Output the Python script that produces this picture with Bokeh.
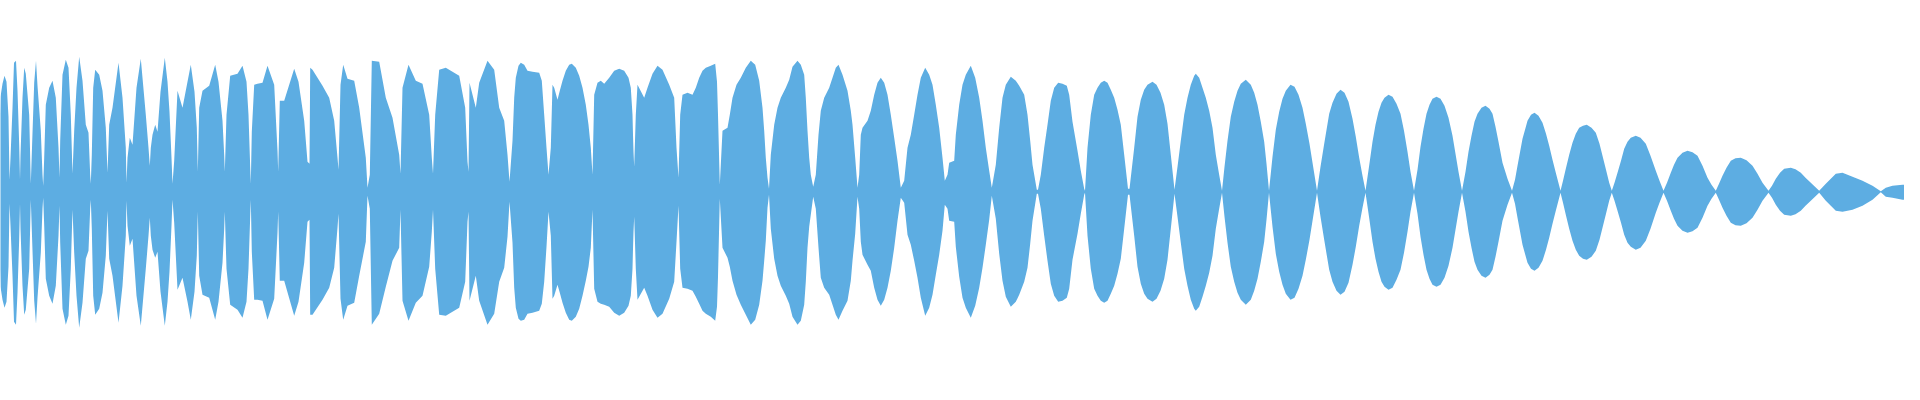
from bokeh.plotting import figure
from bokeh.models import Range1d, ColumnDataSource
from bokeh.embed import file_html
from bokeh.resources import INLINE

# Waveform envelope: sample position, upper and lower amplitude
wave_x = [
    0, 1.5, 2, 3, 4, 5, 6,
    7, 8, 10, 12, 14, 16, 17,
    18, 20, 21.5, 23.5, 25, 26.7, 27.5,
    28, 30, 31.7, 33.3, 36.7, 38.3,
    39.5, 41.7, 43.5, 45, 48.3, 50, 50.7,
    51.7, 53.3, 56.7, 60, 63.3, 66, 67,
    67.7, 70, 73.3, 76, 78.3, 80,
    81.7, 84, 86.7, 90, 93.3, 96, 97.7, 98.3,
    99.3, 100.7, 102.7, 106.7, 110, 113.3, 115,
    116.7, 120, 126, 130, 133.3, 134,
    135, 137.3, 140, 144, 148.3, 153.3, 156, 157.3,
    158.3, 160, 162.7, 165, 168, 172.3, 175, 177, 179, 180,
    181.7, 185, 190, 195, 198.3, 202, 204.3, 205.3,
    206.7, 210, 216.7, 222.7, 226, 230, 231.7, 232.3,
    234, 237.7, 245, 250, 254, 256, 257.7, 258.3,
    259.3, 261.7, 265, 270, 275, 281.7, 285, 285.7,
    287.3, 291.7, 301.7, 306, 311.7, 315, 317,
    317.7, 320, 330, 336.7, 341.7, 345, 346,
    348, 350.7, 355, 361.7, 366.7, 373.3, 375,
    377.3, 379.3, 386.7, 393.3, 400, 406.7, 408,
    410, 416, 423.3, 430, 436.7, 439.3, 440.5,
    442.7, 446.7, 453.3, 460, 466.7, 472.7, 475, 476,
    477, 483.3, 486.7, 495, 501.7, 506.7, 511.7, 515, 517,
    520, 521.7, 523.3, 526, 528.3, 531.7, 535, 540, 546.7, 549.3, 551.7, 554, 556,
    558.3, 560, 561.7, 565, 567.3, 570, 573.3, 576.7, 579.3, 583.3, 586.7, 590, 593.3, 596, 598.3, 600,
    601.7, 605, 608.3, 611.7, 616.7, 621.7, 626.7, 631.7, 636, 638.3, 640, 640.5, 641, 641.7,
    643.3, 645, 651.7, 655, 660, 665, 670, 676.7, 681.7, 684, 686,
    687.7, 690, 695, 700, 703.3, 706.7, 710, 713.3, 718.3, 722.7, 724.5, 725.5, 727.3,
    730, 735, 737.3, 740, 744, 748.3, 753.3, 758.3, 762.7, 766.7, 770, 771.7, 773.3, 775,
    776.5, 778.3, 781.7, 785, 788.3, 793.3, 796.7, 800, 805, 808.3, 811.7, 813.3, 815, 816.7, 818.3, 820.7,
    823.3, 826, 828.3, 831.7, 836.7, 840, 843.3, 846, 850, 855, 858.3, 860, 862.7, 865,
    866.7, 868.3, 870, 875, 878.3, 881.7, 885, 888.3, 891.7, 895, 898.3, 901.7, 905, 908.3,
    911.7, 915, 918.3, 921.7, 925, 928.3, 932.7, 936.7, 940, 943.3, 946.7, 950, 952.3,
    955, 956.7, 961.7, 963.3, 966.7, 970, 973.3, 978.3, 982.7, 986.7, 990, 993.3, 996.7, 999.3,
    1003.3, 1006.7, 1010, 1013.3, 1018.3, 1023.3, 1026.7, 1031.7, 1035, 1037.7, 1040, 1044.3,
    1045.5, 1048.3, 1051.7, 1055, 1058.3, 1061.7, 1065.7, 1070, 1074.3, 1076.7, 1080, 1085, 1088.3, 1091.7,
    1092.5, 1095, 1098.3, 1101.7, 1105, 1108.3, 1111.7, 1115, 1118.3, 1121.7, 1125, 1128.3, 1131.7, 1135.5,
    1137, 1141.7, 1145, 1148.3, 1151.7, 1155, 1160, 1164, 1168, 1171.7, 1175, 1178.3, 1182,
    1185, 1188.3, 1191.7, 1195, 1198.3, 1201.7, 1203.3, 1206.7, 1210, 1213.3, 1216.7, 1220, 1223.3, 1226.5, 1229.5,
    1232, 1235, 1238.3, 1241.7, 1245, 1248.3, 1253.3, 1258.3, 1261.7, 1265, 1268.3, 1271.7, 1274, 1276.5,
    1280, 1283.3, 1286.7, 1290, 1293.3, 1298, 1302, 1306, 1310, 1313.3, 1317, 1320.5, 1324.5,
    1328, 1331.7, 1336.7, 1340, 1344, 1348, 1352, 1356, 1360, 1363.3, 1366.7, 1370, 1373,
    1376.5, 1380, 1383, 1386, 1389, 1392, 1396, 1400, 1404, 1408, 1411.5, 1415, 1418, 1421.5,
    1425, 1428, 1431, 1434, 1437, 1440, 1444, 1448, 1452, 1456, 1460, 1463, 1466, 1469.5,
    1473, 1476, 1479, 1482, 1485, 1489, 1493, 1497, 1500, 1503, 1506, 1510, 1515, 1519.5,
    1522.5, 1525, 1530, 1535, 1538.5, 1542, 1546, 1550, 1553.5, 1556.7, 1560, 1563.3, 1568,
    1570.5, 1573.3, 1576.7, 1580, 1583.3, 1586.7, 1590.5, 1594.3, 1599, 1603.3, 1607, 1610, 1613.5, 1616.7, 1619.3,
    1622, 1625, 1628.5, 1631.7, 1635, 1638.3, 1643.3, 1648, 1653.3, 1658, 1663.3, 1667, 1671,
    1674.5, 1678.3, 1681.5, 1685, 1690, 1695, 1700, 1705, 1710, 1715, 1719, 1723.3,
    1726.5, 1730, 1734, 1738.3, 1743, 1748.3, 1754, 1760, 1765, 1770, 1776,
    1779.5, 1783.3, 1787.5, 1791.7, 1798.3, 1803, 1808.3, 1813, 1818.3, 1822.5, 1826.7,
    1833.3, 1843.3, 1850, 1860, 1870, 1880, 1888.3,
    1893.3, 1900, 1910, 1920,
]

wave_top = [
    20, 20, 124, 80, 124, 80, 55,
    60, 95, 108, 116, 110, 75, 12,
    34, 84, 129, 131, 101, 47, 12,
    37, 94, 124, 118, 77, 8,
    44, 109, 131, 106, 61, 17, 6,
    34, 87, 104, 111, 94, 44, 14,
    51, 117, 132, 124, 77, 18,
    61, 104, 135, 111, 67, 59, 17, 8,
    37, 104, 122, 117, 101, 64, 19,
    67, 84, 129, 94, 44, 9,
    34, 54, 47, 104, 133, 77, 44, 26,
    44, 57, 67, 60, 100, 134, 110, 80, 34, 8,
    31, 101, 84, 110, 127, 100, 64, 20,
    84, 101, 106, 127, 110, 71, 37, 20,
    77, 116, 118, 126, 110, 77, 25, 8,
    60, 107, 108, 109, 126, 107, 41, 20,
    91, 91, 123, 110, 71, 30, 28,
    124, 122, 106, 94, 71, 34, 22,
    107, 127, 113, 111, 84, 34, 4,
    17, 131, 130, 94, 74, 37, 18,
    104, 127, 111, 108, 77, 34, 18,
    77, 122, 124, 120, 116, 84, 30, 20,
    109, 84, 109, 131, 122, 84, 71, 37, 10,
    51, 94, 114, 126, 129, 127, 121, 120, 119, 111, 77, 44, 17,
    44, 107, 104, 92, 101, 111, 121, 127, 128, 124, 116, 104, 87, 67, 44, 17,
    97, 109, 111, 108, 114, 121, 123, 121, 114, 104, 77, 57, 40, 25,
    77, 107, 94, 104, 118, 126, 122, 107, 94, 44, 14,
    77, 97, 99, 97, 104, 114, 121, 124, 126, 128, 110, 77, 7,
    61, 64, 77, 94, 107, 114, 124, 131, 127, 111, 84, 61, 34, 14,
    3, 37, 67, 84, 94, 104, 112, 125, 131, 127, 117, 94, 61, 34, 17, 5,
    17, 57, 81, 94, 104, 114, 124, 127, 117, 101, 81, 67, 34, 4,
    17, 57, 64, 71, 81, 97, 109, 114, 109, 97, 77, 54, 31, 4,
    11, 44, 57, 77, 97, 114, 124, 117, 107, 87, 64, 34, 11,
    17, 29, 31, 57, 87, 107, 117, 126, 114, 94, 71, 44, 21, 4,
    27, 64, 94, 107, 115, 111, 106, 97, 77, 51, 27, 2,
    2, 17, 44, 67, 91, 104, 109, 108, 106, 97, 70, 41, 21, 3,
    1, 44, 77, 97, 104, 109, 111, 109, 102, 94, 82, 67, 37, 3,
    3, 44, 75, 92, 102, 107, 110, 107, 99, 87, 68, 37, 2,
    25, 51, 77, 94, 107, 116, 118, 114, 104, 94, 81, 64, 37, 18, 1,
    25, 51, 75, 90, 101, 108, 112, 107, 99, 87, 70, 50, 28, 1,
    35, 62, 80, 93, 101, 107, 105, 97, 84, 68, 48, 26, 1,
    25, 48, 78, 89, 98, 102, 99, 90, 73, 55, 34, 16, 1,
    25, 50, 67, 80, 89, 94, 97, 95, 88, 78, 61, 40, 20, 1,
    22, 45, 63, 78, 87, 93, 95, 93, 86, 74, 56, 38, 20, 1,
    20, 40, 56, 70, 78, 84, 86, 83, 78, 65, 50, 29, 13, 1,
    12, 26, 53, 71, 77, 79, 76, 69, 58, 46, 32, 19, 1,
    11, 23, 37, 49, 58, 64, 66, 67, 64, 59, 48, 36, 22, 9, 1,
    9, 19, 31, 43, 50, 54, 56, 54, 48, 36, 21, 11, 1,
    9, 19, 27, 34, 39, 41, 39.5, 36, 26, 14, 7, 1,
    8, 16, 24, 31, 33.5, 34, 31.5, 26, 18, 9, 1,
    6, 13, 19, 23, 24, 22.5, 19, 14, 9, 5, 1,
    8, 18, 19, 15, 11, 6, 0.5,
    4, 6, 7, 7,
]

wave_bottom = [
    20, 20, 124, 80, 124, 80, 55,
    60, 95, 108, 116, 110, 75, 12,
    34, 84, 130, 133, 101, 47, 12,
    37, 94, 123, 118, 77, 8,
    44, 109, 132, 106, 61, 17, 6,
    34, 87, 104, 112, 94, 44, 14,
    51, 117, 133, 124, 77, 18,
    61, 104, 136, 111, 67, 59, 17, 8,
    37, 104, 123, 117, 101, 64, 19,
    67, 84, 131, 94, 44, 9,
    34, 54, 47, 104, 134, 77, 44, 26,
    44, 58, 66, 60, 100, 134, 110, 80, 34, 8,
    31, 98, 86, 110, 128, 100, 64, 20,
    84, 103, 106, 128, 110, 71, 37, 20,
    77, 113, 118, 126, 110, 77, 25, 8,
    60, 108, 108, 109, 128, 107, 41, 20,
    89, 89, 124, 110, 71, 30, 28,
    123, 123, 108, 96, 76, 36, 22,
    107, 128, 114, 111, 84, 50, 4,
    17, 133, 122, 95, 69, 56, 18,
    109, 129, 111, 104, 75, 40, 18,
    77, 123, 124, 120, 116, 90, 30, 20,
    109, 84, 109, 133, 122, 90, 76, 45, 10,
    51, 96, 116, 127, 129, 128, 122, 121, 119, 112, 90, 55, 20,
    44, 107, 104, 93, 101, 111, 121, 128, 129, 125, 117, 104, 89, 75, 56, 18,
    97, 110, 112, 113, 115, 121, 124, 121, 114, 104, 77, 57, 40, 25,
    77, 108, 96, 104, 118, 126, 122, 107, 90, 50, 14,
    77, 96, 97, 99, 105, 112, 119, 122, 125, 129, 115, 85, 7,
    56, 66, 75, 89, 103, 113, 123, 133, 128, 113, 89, 69, 49, 16,
    3, 37, 67, 84, 94, 104, 112, 125, 133, 129, 113, 90, 56, 35, 23, 5,
    17, 56, 86, 96, 103, 113, 123, 128, 119, 109, 89, 69, 42, 5,
    17, 50, 63, 73, 79, 96, 108, 114, 108, 96, 79, 56, 29, 6,
    11, 43, 53, 69, 86, 106, 124, 116, 103, 83, 63, 39, 13,
    17, 29, 30, 55, 85, 106, 116, 126, 114, 96, 76, 53, 28, 4,
    27, 62, 89, 105, 115, 110, 103, 90, 76, 52, 29, 2,
    2, 17, 44, 69, 92, 104, 110, 109, 106, 97, 68, 42, 22, 3,
    1, 44, 77, 97, 104, 109, 111, 109, 102, 94, 82, 67, 37, 3,
    3, 44, 75, 92, 102, 107, 110, 107, 99, 87, 68, 37, 2,
    25, 51, 77, 94, 108, 117, 119, 115, 105, 94, 81, 64, 37, 18, 1,
    25, 51, 75, 90, 101, 108, 113, 108, 99, 87, 70, 50, 28, 1,
    35, 62, 80, 93, 102, 108, 106, 97, 84, 68, 48, 26, 1,
    25, 48, 78, 90, 99, 103, 100, 91, 73, 55, 34, 16, 1,
    25, 50, 67, 80, 90, 95, 98, 96, 88, 78, 61, 40, 20, 1,
    22, 45, 63, 78, 87, 93, 95, 93, 86, 74, 56, 38, 20, 1,
    20, 40, 56, 70, 78, 84, 86, 83, 78, 65, 50, 29, 13, 1,
    12, 26, 53, 71, 77, 79, 76, 69, 58, 46, 32, 19, 1,
    11, 23, 37, 49, 58, 64, 67, 68, 65, 59, 48, 36, 22, 9, 1,
    9, 19, 31, 43, 51, 55, 58, 56, 49, 37, 21, 11, 1,
    9, 19, 27, 34, 39, 41, 39.5, 36, 26, 14, 7, 1,
    8, 16, 24, 31, 33.5, 34, 31.5, 26, 18, 9, 1,
    6, 13, 19, 23, 24, 22.5, 19, 14, 9, 5, 1,
    9, 19, 20, 18, 14, 8, 0.5,
    5, 6, 8, 7,
]

assert len(wave_x) == len(wave_top) == len(wave_bottom), (len(wave_x), len(wave_top), len(wave_bottom))

source = ColumnDataSource(dict(
    x=wave_x,
    upper=wave_top,
    lower=[-v for v in wave_bottom],
))

p = figure(
    width=1904, height=384,
    output_backend="svg", toolbar_location=None,
    x_range=Range1d(8, 1912), y_range=Range1d(-192.7, 191.3),
    x_axis_type=None, y_axis_type=None,
    min_border=0,
)
p.grid.visible = False
p.outline_line_color = None
p.background_fill_color = "white"
p.border_fill_color = "white"

p.varea(x="x", y1="lower", y2="upper", source=source, fill_color="#5dade2", fill_alpha=1.0)

open("out.html", "w").write(file_html(p, INLINE))
